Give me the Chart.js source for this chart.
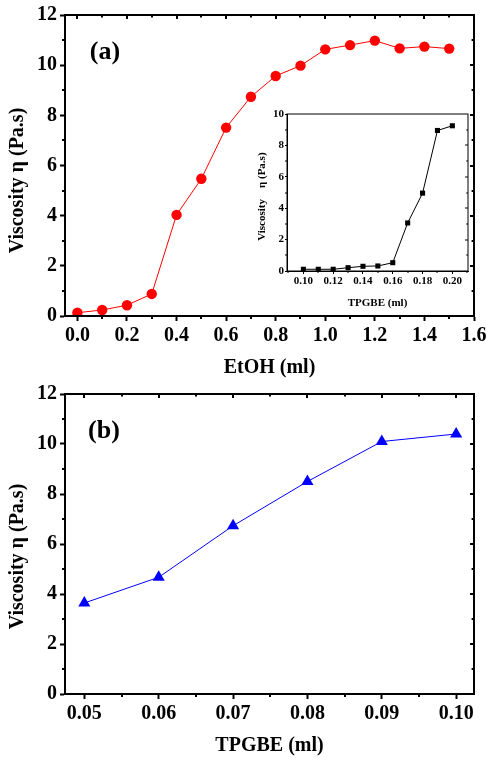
<!DOCTYPE html>
<html>
<head>
<meta charset="utf-8">
<script src="https://cdn.jsdelivr.net/npm/chart.js@4.4.1/dist/chart.umd.min.js"></script>
<style>
  html, body { margin: 0; padding: 0; background: #fff; }
  .box { position: absolute; }
  #wrap-a { left: 0; top: 0; width: 486px; height: 380px; }
  #wrap-inset { left: 250px; top: 100px; width: 222px; height: 214px; }
  #wrap-b { left: 0; top: 380px; width: 486px; height: 378px; }
</style>
</head>
<body>
<div class="box" id="wrap-a"><canvas id="chartA"></canvas></div>
<div class="box" id="wrap-inset"><canvas id="chartInset"></canvas></div>
<div class="box" id="wrap-b"><canvas id="chartB"></canvas></div>
<script>
// (a) viscosity vs EtOH
const etohMl = [0, 0.1, 0.2, 0.3, 0.4, 0.5, 0.6, 0.7, 0.8, 0.9, 1.0, 1.1, 1.2, 1.3, 1.4, 1.5];
const etohViscosity = [0.13, 0.24, 0.43, 0.88, 4.03, 5.47, 7.51, 8.74, 9.57, 9.98, 10.63, 10.80, 10.98, 10.67, 10.74, 10.66];
const etohTicks = [0, 0.2, 0.4, 0.6, 0.8, 1.0, 1.2, 1.4, 1.6];
const viscTicks = [0, 2, 4, 6, 8, 10, 12];

// inset: viscosity vs TPGBE (small range)
const insetTpgbeMl = [0.10, 0.11, 0.12, 0.13, 0.14, 0.15, 0.16, 0.17, 0.18, 0.19, 0.20];
const insetViscosity = [0.11, 0.11, 0.11, 0.21, 0.30, 0.32, 0.53, 3.06, 4.96, 8.95, 9.25];
const insetXTicks = [0.10, 0.12, 0.14, 0.16, 0.18, 0.20];
const insetYTicks = [0, 2, 4, 6, 8, 10];

// (b) viscosity vs TPGBE
const tpgbeMl = [0.05, 0.06, 0.07, 0.08, 0.09, 0.10];
const tpgbeViscosity = [3.64, 4.67, 6.73, 8.50, 10.10, 10.40];
const tpgbeTicks = [0.05, 0.06, 0.07, 0.08, 0.09, 0.10];

const SERIF = "'Liberation Serif', 'Times New Roman', serif";

function toPoints(xs, ys) {
  return xs.map((x, i) => ({ x, y: ys[i] }));
}

function fixedTicks(values) {
  return (scale) => {
    scale.ticks = values.map((value) => ({ value }));
  };
}

// box around the plot, minor ticks outside, small ticks inside top/right
const framePlugin = {
  id: 'frame',
  afterDraw(chart, args, o) {
    const { ctx, chartArea: a, scales: { x, y } } = chart;
    const minors = (scale, step) => {
      const majors = scale.ticks.map((t) => t.value);
      const out = [majors[0] - step / 2, ...majors.map((v) => v + step / 2)];
      return out.filter((v) => v > scale.min && v < scale.max);
    };
    const majX = x.ticks.map((t) => t.value);
    const majY = y.ticks.map((t) => t.value);
    const minX = minors(x, o.stepX);
    const minY = minors(y, o.stepY);

    ctx.save();
    ctx.strokeStyle = '#000';
    ctx.lineWidth = o.width;
    ctx.strokeRect(a.left, a.top, a.right - a.left, a.bottom - a.top);

    ctx.lineWidth = o.tickWidth;
    ctx.beginPath();
    minX.forEach((v) => {
      const px = Math.round(x.getPixelForValue(v));
      ctx.moveTo(px, a.bottom);
      ctx.lineTo(px, a.bottom + o.minorLen);
    });
    minY.forEach((v) => {
      const py = Math.round(y.getPixelForValue(v));
      ctx.moveTo(a.left, py);
      ctx.lineTo(a.left - o.minorLen, py);
    });
    if (o.top) {
      majX.concat(minX).forEach((v) => {
        const px = Math.round(x.getPixelForValue(v));
        if (px <= a.left + 1 || px >= a.right - 1) return;
        ctx.moveTo(px, a.top);
        ctx.lineTo(px, a.top + (majX.includes(v) ? o.inLen : o.inLen * 0.6));
      });
    }
    if (o.right) {
      majY.concat(minY).forEach((v) => {
        const py = Math.round(y.getPixelForValue(v));
        if (py <= a.top + 1 || py >= a.bottom - 1) return;
        ctx.moveTo(a.right, py);
        ctx.lineTo(a.right - (majY.includes(v) ? o.inLen : o.inLen * 0.6), py);
      });
    }
    ctx.stroke();
    ctx.restore();
  },
};

const panelLabelPlugin = {
  id: 'panelLabel',
  afterDraw(chart, args, o) {
    if (!o.text) return;
    const { ctx, chartArea: a } = chart;
    ctx.save();
    ctx.fillStyle = '#000';
    ctx.font = `bold 26px ${SERIF}`;
    ctx.textAlign = 'center';
    ctx.textBaseline = 'middle';
    ctx.fillText(o.text, a.left + o.dx, a.top + o.dy);
    ctx.restore();
  },
};

function axis(opts) {
  return {
    type: 'linear',
    min: opts.min,
    max: opts.max,
    afterBuildTicks: fixedTicks(opts.ticks),
    afterFit: (scale) => {
      if (opts.height) scale.height = opts.height;
      if (opts.width) scale.width = opts.width;
      scale.paddingLeft = 0;
      scale.paddingRight = 0;
      scale.paddingTop = 0;
      scale.paddingBottom = 0;
    },
    border: { display: true, color: '#000', width: opts.line },
    grid: {
      drawOnChartArea: false,
      drawTicks: true,
      tickLength: opts.tickLength,
      tickWidth: opts.line,
      tickColor: '#000',
    },
    ticks: {
      color: '#000',
      padding: opts.tickPadding,
      maxRotation: 0,
      autoSkip: false,
      font: { family: SERIF, size: opts.tickSize, weight: 'bold' },
      callback: (value) => Number(value).toFixed(opts.decimals),
    },
    title: {
      display: true,
      text: opts.title,
      color: '#000',
      padding: opts.titlePadding,
      font: { family: SERIF, size: opts.titleSize, weight: 'bold' },
    },
  };
}

function buildChart(canvasId, cfg) {
  return new Chart(document.getElementById(canvasId), {
    type: 'line',
    data: {
      datasets: [{
        data: toPoints(cfg.xs, cfg.ys),
        borderColor: cfg.color,
        backgroundColor: cfg.color,
        borderWidth: 1,
        pointStyle: cfg.pointStyle,
        pointRadius: cfg.pointRadius,
        pointBorderWidth: 0,
        pointBackgroundColor: cfg.color,
        tension: 0,
      }],
    },
    options: {
      responsive: true,
      maintainAspectRatio: false,
      animation: false,
      events: [],
      layout: { padding: cfg.padding },
      scales: { x: cfg.x, y: cfg.y },
      plugins: {
        legend: { display: false },
        tooltip: { enabled: false },
        frame: cfg.frame,
        panelLabel: cfg.label || {},
      },
    },
    plugins: [framePlugin, panelLabelPlugin],
  });
}

// trailing spaces push the rotated y titles a little lower, as in the original
buildChart('chartA', {
  xs: etohMl,
  ys: etohViscosity,
  color: '#ff0000',
  pointStyle: 'circle',
  pointRadius: 5.2,
  padding: { left: 0, right: 12, top: 15, bottom: 0 },
  x: axis({ min: -0.05, max: 1.6, ticks: etohTicks, decimals: 1, height: 64, line: 2,
    tickLength: 5, tickPadding: 3, tickSize: 20, title: 'EtOH (ml)', titleSize: 20,
    titlePadding: { top: 0, bottom: 0 } }),
  y: axis({ min: 0, max: 12, ticks: viscTicks, decimals: 0, width: 65, line: 2,
    tickLength: 5, tickPadding: 3, tickSize: 20, title: 'Viscosity η (Pa.s)      ', titleSize: 20,
    titlePadding: { top: 6, bottom: 0 } }),
  frame: { width: 2, tickWidth: 2, stepX: 0.2, stepY: 2, minorLen: 3, inLen: 4, top: true, right: true },
  label: { text: '(a)', dx: 40, dy: 37 },
});

buildChart('chartInset', {
  xs: insetTpgbeMl,
  ys: insetViscosity,
  color: '#000000',
  pointStyle: 'rect',
  pointRadius: 3.6,
  padding: { left: 0, right: 3, top: 14, bottom: 0 },
  x: axis({ min: 0.089, max: 0.2105, ticks: insetXTicks, decimals: 2, height: 43, line: 1,
    tickLength: 3, tickPadding: 1, tickSize: 11, title: 'TPGBE (ml)', titleSize: 11,
    titlePadding: { top: 0, bottom: 4 } }),
  y: axis({ min: 0, max: 10, ticks: insetYTicks, decimals: 0, width: 37, line: 1,
    tickLength: 2, tickPadding: 1, tickSize: 11, title: 'Viscosity    η (Pa.s)   ', titleSize: 11,
    titlePadding: { top: 6, bottom: 0 } }),
  frame: { width: 1, tickWidth: 1, stepX: 0.02, stepY: 2, minorLen: 2, inLen: 3, top: false, right: true },
});

buildChart('chartB', {
  xs: tpgbeMl,
  ys: tpgbeViscosity,
  color: '#0000ff',
  pointStyle: 'triangle',
  pointRadius: 7,
  padding: { left: 0, right: 12, top: 14, bottom: 0 },
  x: axis({ min: 0.0474, max: 0.1024, ticks: tpgbeTicks, decimals: 2, height: 64, line: 2,
    tickLength: 5, tickPadding: 3, tickSize: 20, title: 'TPGBE (ml)', titleSize: 20,
    titlePadding: { top: 0, bottom: 0 } }),
  y: axis({ min: 0, max: 12, ticks: viscTicks, decimals: 0, width: 65, line: 2,
    tickLength: 5, tickPadding: 3, tickSize: 20, title: 'Viscosity η (Pa.s)     ', titleSize: 20,
    titlePadding: { top: 6, bottom: 0 } }),
  frame: { width: 2, tickWidth: 2, stepX: 0.01, stepY: 2, minorLen: 3, inLen: 4, top: true, right: true },
  label: { text: '(b)', dx: 39, dy: 37 },
});
</script>
</body>
</html>
